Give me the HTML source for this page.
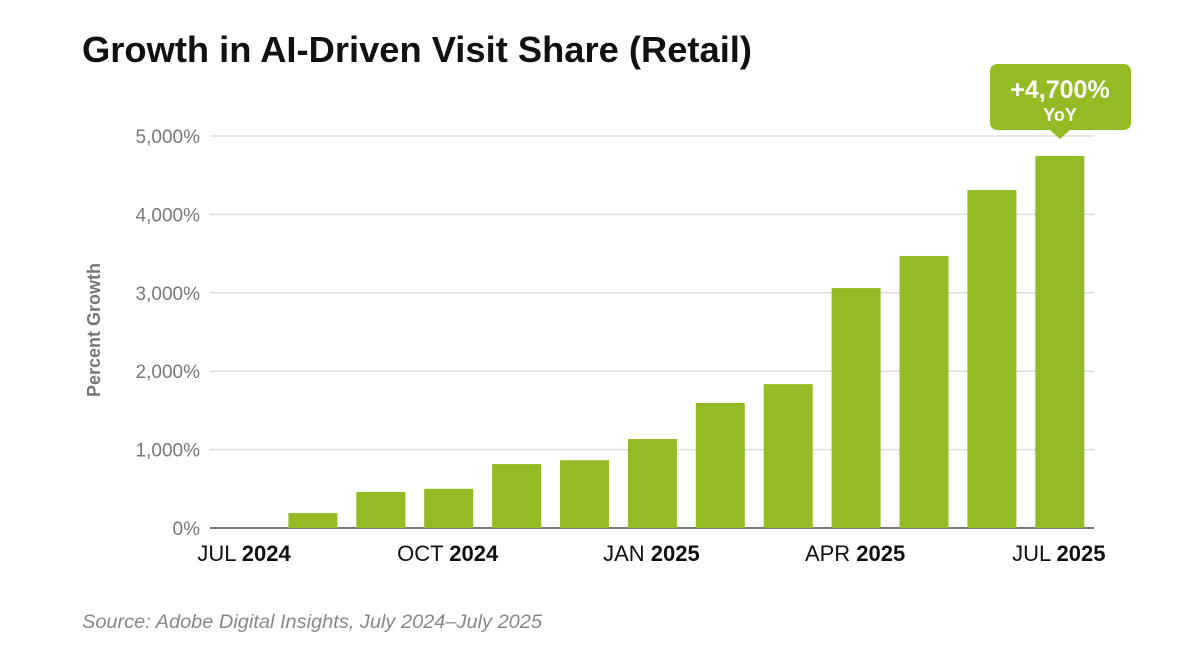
<!DOCTYPE html>
<html><head><meta charset="utf-8"><style>
body{margin:0;background:#fff;}
svg text{font-family:"Liberation Sans",sans-serif;}
</style></head><body>
<svg width="1190" height="658" id="c">
<text x="82" y="62" font-size="36" font-weight="bold" fill="#111" textLength="670" lengthAdjust="spacingAndGlyphs">Growth in AI-Driven Visit Share (Retail)</text>
<text transform="translate(100,330) rotate(-90)" text-anchor="middle" font-size="18" font-weight="bold" fill="#777">Percent Growth</text>
<text x="82" y="628" font-size="19" font-style="italic" fill="#888" textLength="460" lengthAdjust="spacingAndGlyphs">Source: Adobe Digital Insights, July 2024–July 2025</text>
<g id="grid"></g><g id="bars"></g><g id="xl"></g>
<g>
<path d="M998,64 H1123 Q1131,64 1131,72 V122 Q1131,130 1123,130 H1070 L1060,139 L1050,130 H998 Q990,130 990,122 V72 Q990,64 998,64 Z" fill="#93bc24"/>
<text x="1060" y="98" text-anchor="middle" font-size="25" font-weight="bold" fill="#fff">+4,700%</text>
<text x="1060" y="121" text-anchor="middle" font-size="18" font-weight="bold" fill="#fff">YoY</text>
</g>
</svg>
<script>
const months=["JUL 2024","AUG 2024","SEP 2024","OCT 2024","NOV 2024","DEC 2024","JAN 2025","FEB 2025","MAR 2025","APR 2025","MAY 2025","JUN 2025","JUL 2025"];
const values=[0,190,460,500,815,865,1135,1595,1835,3060,3470,4310,4745];
const yTicks=[0,1000,2000,3000,4000,5000];
const yTickLabels=["0%","1,000%","2,000%","3,000%","4,000%","5,000%"];
const xLabelIdx=[0,3,6,9,12];
const NS="http://www.w3.org/2000/svg";
const y0=528,yPer=(528-136)/5000,xStart=245,step=67.9,bw=49;
const ys=v=>y0-v*yPer, xs=i=>xStart+i*step;
function mk(t,a,p){const e=document.createElementNS(NS,t);for(const k in a)e.setAttribute(k,a[k]);p.appendChild(e);return e;}
const g=document.getElementById('grid');
yTicks.forEach((v,i)=>{
 const l=mk('line',{x1:210,x2:1094,y1:ys(v),y2:ys(v),stroke:i==0?'#777':'#ddd','stroke-width':i==0?2:1.5},g);
 
 
 const t=mk('text',{x:200,y:ys(v)+7,'text-anchor':'end','font-size':19,fill:'#777'},g);
 t.textContent=yTickLabels[i];
 
 
});
const b=document.getElementById('bars');
values.forEach((v,i)=>{
 const r=mk('rect',{x:xs(i)-bw/2,y:ys(v),width:bw,height:v*yPer,fill:'#93bc24'},b);
 
 
});
const xl=document.getElementById('xl');
xLabelIdx.forEach(i=>{
 const [m,yr]=months[i].split(' ');
 const t=mk('text',{x:xs(i)-1,y:561,'text-anchor':'middle','font-size':22,fill:'#111'},xl);
 
 
 const a=mk('tspan',{},t);a.textContent=m+' ';
 const c=mk('tspan',{'font-weight':'bold'},t);c.textContent=yr;
});
</script>
</body></html>
